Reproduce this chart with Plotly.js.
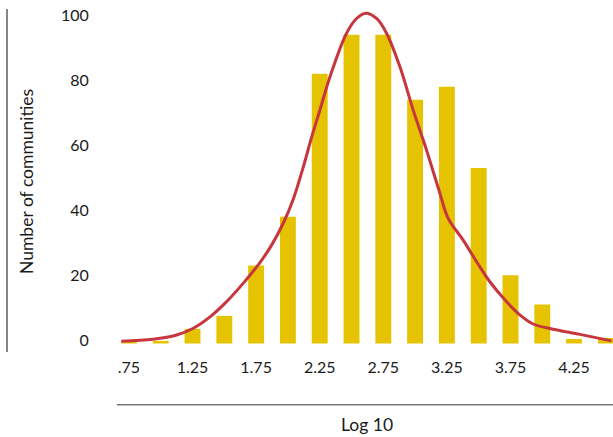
<!DOCTYPE html>
<html>
<head>
<meta charset="utf-8">
<script src="https://cdn.plot.ly/plotly-3.0.1.min.js"></script>
<style>html,body{margin:0;padding:0;background:#fff;}#chart{width:613px;height:437px;}</style>
</head>
<body>
<div id="chart"></div>
<script>
// Histogram bins (Log 10 of community size) and counts
const binCenters = [0.75, 1.00, 1.25, 1.50, 1.75, 2.00, 2.25, 2.50, 2.75, 3.00, 3.25, 3.50, 3.75, 4.00, 4.25, 4.50];
const binCounts  = [0.6, 0.8, 4.5, 8.5, 24, 39, 83, 95, 95, 75, 79, 54, 21, 12, 1.4, 1.7];

// Fitted density curve
const curveX = [0.69, 0.94, 1.125, 1.256, 1.387, 1.518, 1.648, 1.78, 1.875, 1.963, 2.042, 2.12, 2.186, 2.25, 2.33, 2.46, 2.54, 2.613, 2.697, 2.776, 2.88, 2.985, 3.09, 3.195, 3.26, 3.378, 3.483, 3.588, 3.718, 3.823, 3.928, 4.085, 4.296, 4.545];
const curveY = [0.7, 1.3, 2.6, 4.7, 8.2, 12.9, 18.5, 24.9, 30.5, 37.0, 44.4, 54.2, 63.4, 71.6, 82, 95.4, 100, 101.6, 100, 95.4, 85.2, 71.8, 59.5, 46.2, 38.5, 31.8, 25.2, 19, 12.9, 8.8, 6, 4.4, 2.8, 0.8];

// Axis ticks
const xTickVals = [0.75, 1.25, 1.75, 2.25, 2.75, 3.25, 3.75, 4.25];
const xTickText = ['.75', '1.25', '1.75', '2.25', '2.75', '3.25', '3.75', '4.25'];
const yTickVals = [0, 20, 40, 60, 80, 100];

const xTitle = 'Log 10';
const yTitle = 'Number of communities';

const FONT = 'Lato, "Noto Sans", sans-serif';

const traces = [
  {
    type: 'bar',
    x: binCenters,
    y: binCounts,
    marker: {color: '#E6C300'},
    hoverinfo: 'skip'
  },
  {
    type: 'scatter',
    mode: 'lines',
    x: curveX,
    y: curveY,
    line: {color: '#C8363D', width: 3, shape: 'spline', smoothing: 1},
    hoverinfo: 'skip'
  }
];

const layout = {
  width: 613,
  height: 437,
  margin: {l: 110, r: 0, t: 5, b: 92},
  paper_bgcolor: '#ffffff',
  plot_bgcolor: '#ffffff',
  showlegend: false,
  bargap: 0.5,
  font: {family: FONT, size: 16, color: '#1a1a1a'},
  xaxis: {
    range: [0.601, 4.556],
    tickvals: xTickVals,
    ticktext: xTickText,
    showgrid: false,
    zeroline: false,
    showline: false,
    ticks: 'outside',
    ticklen: 8,
    tickcolor: 'rgba(0,0,0,0)',
    tickfont: {family: FONT, size: 16, color: '#1a1a1a'}
  },
  yaxis: {
    range: [-0.46, 104.15],
    tickvals: yTickVals,
    showgrid: false,
    zeroline: false,
    showline: false,
    ticks: 'outside',
    ticklen: 17,
    ticklabelshift: -3,
    tickcolor: 'rgba(0,0,0,0)',
    tickfont: {family: FONT, size: 16, color: '#1a1a1a'}
  },
  shapes: [
    {type: 'line', xref: 'paper', yref: 'paper', x0: -0.2048, x1: -0.2048, y0: 0.988, y1: -0.0206,
     line: {color: '#333333', width: 1.2}},
    {type: 'line', xref: 'paper', yref: 'paper', x0: 0.0139, x1: 1.0, y0: -0.176, y1: -0.176,
     line: {color: '#777777', width: 1.5}}
  ],
  annotations: [
    {text: xTitle, xref: 'paper', yref: 'paper', x: (367 - 110) / 503, y: (345 - 424) / 340,
     xanchor: 'center', yanchor: 'middle', showarrow: false,
     font: {family: FONT, size: 17.5, color: '#1a1a1a'}},
    {text: yTitle, xref: 'paper', yref: 'paper', x: (27 - 110) / 503, y: (345 - 182) / 340,
     xanchor: 'center', yanchor: 'middle', showarrow: false, textangle: -90,
     font: {family: FONT, size: 17.5, color: '#1a1a1a'}}
  ]
};

Plotly.newPlot('chart', traces, layout, {displayModeBar: false, staticPlot: true});
</script>
</body>
</html>
